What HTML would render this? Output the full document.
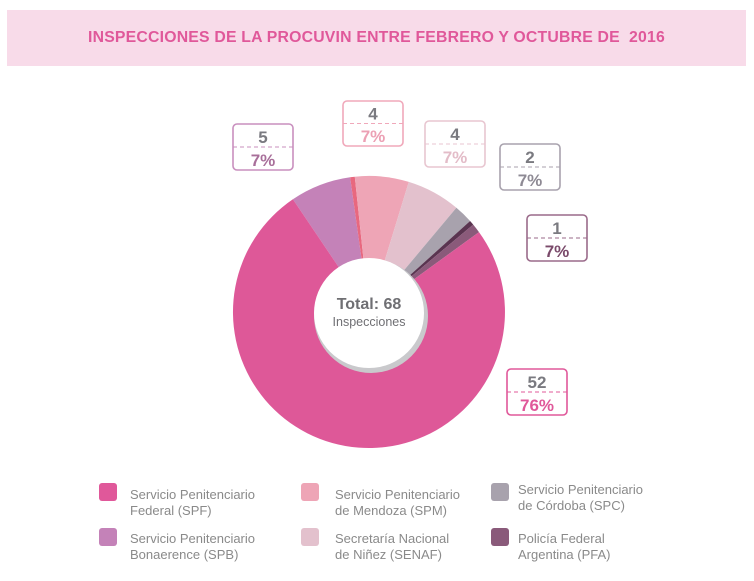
<!DOCTYPE html>
<html><head><meta charset="utf-8"><style>
body{margin:0;background:#fff;width:754px;height:581px;overflow:hidden;font-family:"Liberation Sans",sans-serif}
.hdr{position:absolute;left:7px;top:10px;width:739px;height:56px;background:#f8dbe9}
.hdr div{position:absolute;left:0;right:0;top:19px;text-align:center;color:#e0589a;font-weight:bold;font-size:15.8px;letter-spacing:0.2px}
.lg{position:absolute;font-size:13px;color:#8a8a8a;line-height:16px}
.sw{position:absolute;width:18px;height:18px;border-radius:3px}
</style></head><body>
<div class="hdr"><div>INSPECCIONES DE LA PROCUVIN ENTRE FEBRERO Y OCTUBRE DE&nbsp; 2016</div></div>
<svg id="s" width="754" height="581" style="position:absolute;left:0;top:0"></svg>
<div class="sw" style="left:99px;top:483px;background:#e0589a"></div><div class="lg" style="left:130px;top:487px">Servicio Penitenciario<br>Federal (SPF)</div>
<div class="sw" style="left:301px;top:483px;background:#eea5b6"></div><div class="lg" style="left:335px;top:487px">Servicio Penitenciario<br>de Mendoza (SPM)</div>
<div class="sw" style="left:491px;top:483px;background:#a8a2ad"></div><div class="lg" style="left:518px;top:482px">Servicio Penitenciario<br>de Córdoba (SPC)</div>
<div class="sw" style="left:99px;top:528px;background:#c482b8"></div><div class="lg" style="left:130px;top:531px">Servicio Penitenciario<br>Bonaerence (SPB)</div>
<div class="sw" style="left:301px;top:528px;background:#e3c1cd"></div><div class="lg" style="left:335px;top:531px">Secretaría Nacional<br>de Niñez (SENAF)</div>
<div class="sw" style="left:491px;top:528px;background:#8a5a7a"></div><div class="lg" style="left:518px;top:531px">Policía Federal<br>Argentina (PFA)</div>
<script>
var cx=369,cy=312,R=136,r=56,s='';
function p(a,rad){var t=a*Math.PI/180;return [(cx+rad*Math.sin(t)).toFixed(1),(cy-rad*Math.cos(t)).toFixed(1)];}
var sl=[[-34,-8,'#c482b8'],[-8,-6,'#e8687f'],[-6,17,'#eea5b6'],[17,40,'#e3c1cd'],[40,48,'#a8a2ad'],[48,50,'#5a3450'],[50,54,'#8a5a7a'],[54,326,'#de5898']];
sl.forEach(function(x){var a=p(x[0],R),b=p(x[1],R),l=(x[1]-x[0])>180?1:0;
s+='<path d="M'+cx+' '+cy+'L'+a[0]+' '+a[1]+'A'+R+' '+R+' 0 '+l+' 1 '+b[0]+' '+b[1]+'Z" fill="'+x[2]+'"/>';});
s+='<circle cx="371" cy="316" r="57" fill="#c9c9cc"/><circle cx="369" cy="313" r="55" fill="#fff"/>';
s+='<text x="369" y="309" text-anchor="middle" font-size="16" font-weight="bold" fill="#6f6f73" font-family="Liberation Sans">Total: 68</text>';
s+='<text x="369" y="326" text-anchor="middle" font-size="12.5" fill="#6f6f73" font-family="Liberation Sans">Inspecciones</text>';
function box(x,y,w,h,c,n,pc,pcc){s+='<rect x="'+x+'" y="'+y+'" width="'+w+'" height="'+h+'" rx="4" fill="#fff" stroke="'+c+'" stroke-width="1.6"/>';
s+='<line x1="'+x+'" y1="'+(y+h/2)+'" x2="'+(x+w)+'" y2="'+(y+h/2)+'" stroke="'+c+'" stroke-dasharray="4 3"/>';
s+='<text x="'+(x+w/2)+'" y="'+(y+h/2-4)+'" text-anchor="middle" font-size="17" font-weight="bold" fill="#7a7a80" font-family="Liberation Sans">'+n+'</text>';
s+='<text x="'+(x+w/2)+'" y="'+(y+h-4)+'" text-anchor="middle" font-size="17" font-weight="bold" fill="'+pcc+'" font-family="Liberation Sans">'+pc+'</text>';}
box(233,124,60,46,'#c98fbe',5,'7%','#a86f9a');
box(343,101,60,45,'#f0a8ba',4,'7%','#eca0b4');
box(425,121,60,46,'#e8c6d0',4,'7%','#e3bcc8');
box(500,144,60,46,'#a8a2ad',2,'7%','#8e8a94');
box(527,215,60,46,'#9a6a8a',1,'7%','#7a4a6a');
box(507,369,60,46,'#e0589a',52,'76%','#e0589a');
document.getElementById('s').innerHTML=s;
</script>
</body></html>
